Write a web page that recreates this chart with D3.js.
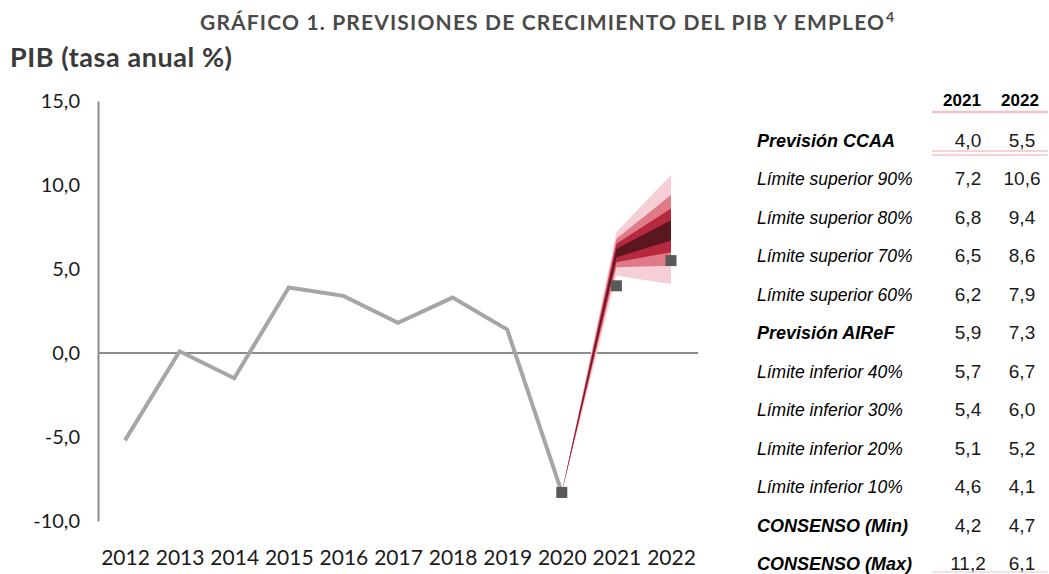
<!DOCTYPE html>
<html>
<head>
<meta charset="utf-8">
<script src="https://cdn.jsdelivr.net/npm/d3@7"></script>
<style>
  body { margin: 0; background: #fff; }
  svg { display: block; }
</style>
</head>
<body>
<div id="grafico"></div>
<script>
// Serie histórica del PIB (tasa anual %)
const anios = ["2012", "2013", "2014", "2015", "2016", "2017", "2018", "2019", "2020", "2021", "2022"];
const anioHist = ["2012", "2013", "2014", "2015", "2016", "2017", "2018", "2019", "2020"];
const pibHist = [-5.2, 0.1, -1.5, 3.9, 3.4, 1.8, 3.3, 1.4, -8.3];

// Previsión CCAA (cuadrados)
const anioCCAA = ["2021", "2022"];
const pibCCAA = [4.0, 5.5];

// Tabla
const filas = ["Previsión CCAA", "Límite superior 90%", "Límite superior 80%", "Límite superior 70%",
    "Límite superior 60%", "Previsión AIReF", "Límite inferior 40%", "Límite inferior 30%",
    "Límite inferior 20%", "Límite inferior 10%", "CONSENSO (Min)", "CONSENSO (Max)"];
const val2021 = [4.0, 7.2, 6.8, 6.5, 6.2, 5.9, 5.7, 5.4, 5.1, 4.6, 4.2, 11.2];
const val2022 = [5.5, 10.6, 9.4, 8.6, 7.9, 7.3, 6.7, 6.0, 5.2, 4.1, 4.7, 6.1];
const filasNegrita = ["Previsión CCAA", "Previsión AIReF", "CONSENSO (Min)", "CONSENSO (Max)"];

// Bandas del abanico: [inferior, superior] (índices de la tabla)
const bandas = [
    { lo: 9, hi: 1, color: "#f5cfd5" },
    { lo: 8, hi: 2, color: "#e07a87" },
    { lo: 7, hi: 3, color: "#b6293f" },
    { lo: 6, hi: 4, color: "#5b1620" }
];

const svgWidth = 1049, svgHeight = 574;
const svg = d3.select("#grafico").append("svg")
    .attr("width", svgWidth)
    .attr("height", svgHeight);

const fuente = "'Gill Sans', 'Gill Sans MT', Lato, sans-serif";

// Títulos
svg.append("text")
    .attr("x", 200).attr("y", 30)
    .attr("textLength", 684)
    .attr("lengthAdjust", "spacing")
    .style("font-family", fuente)
    .style("font-weight", "bold")
    .style("font-size", "21px")
    .style("fill", "#4a4a4a")
    .text("GRÁFICO 1. PREVISIONES DE CRECIMIENTO DEL PIB Y EMPLEO");

svg.append("text")
    .attr("x", 886).attr("y", 22)
    .style("font-family", fuente)
    .style("font-weight", "bold")
    .style("font-size", "14px")
    .style("fill", "#4a4a4a")
    .text("4");

svg.append("text")
    .attr("x", 10).attr("y", 67)
    .attr("textLength", 222)
    .attr("lengthAdjust", "spacing")
    .style("font-family", fuente)
    .style("font-weight", "bold")
    .style("font-size", "27px")
    .style("fill", "#3a3a3a")
    .text("PIB (tasa anual %)");

// Escalas
const x = d3.scalePoint()
    .domain(anios)
    .range([125, 671]);

const y = d3.scaleLinear()
    .domain([-10, 15])
    .range([521, 101]);

// Eje Y
const ejeY = svg.append("g")
    .attr("transform", "translate(98,0)")
    .call(d3.axisLeft(y).tickValues([-10, -5, 0, 5, 10, 15])
        .tickFormat(d => d3.format(".1f")(d).replace(".", ",").replace("−", "-"))
        .tickSize(0).tickPadding(18));
ejeY.select(".domain").attr("stroke", "#8c8c8c").attr("stroke-width", 2);
ejeY.selectAll("text")
    .style("font-family", fuente)
    .style("font-size", "20px")
    .style("fill", "#1a1a1a");

// Eje X
const ejeX = svg.append("g")
    .attr("transform", "translate(0,550)")
    .call(d3.axisBottom(x).tickSize(0).tickPadding(0));
ejeX.select(".domain").remove();
ejeX.selectAll("text")
    .style("font-family", fuente)
    .style("font-size", "21px")
    .style("fill", "#1a1a1a");

// Línea del cero
svg.append("line")
    .attr("x1", 98).attr("x2", 698)
    .attr("y1", y(0)).attr("y2", y(0))
    .attr("stroke", "#8c8c8c")
    .attr("stroke-width", 2);

// Abanico
const ultimo = pibHist[pibHist.length - 1];
bandas.forEach(b => {
    const pts = [
        [x("2020"), y(ultimo)],
        [x("2021"), y(val2021[b.hi])],
        [x("2022"), y(val2022[b.hi])],
        [x("2022"), y(val2022[b.lo])],
        [x("2021"), y(val2021[b.lo])]
    ];
    svg.append("path")
        .attr("d", d3.line()(pts) + "Z")
        .attr("fill", b.color);
});

// Línea histórica
svg.append("path")
    .datum(pibHist)
    .attr("fill", "none")
    .attr("stroke", "#a6a6a6")
    .attr("stroke-width", 4)
    .attr("d", d3.line().x((d, i) => x(anioHist[i])).y(d => y(d)));

// Cuadrados
const lado = 11;
svg.selectAll("rect.ccaa")
    .data(pibCCAA.map((v, i) => ({ anio: anioCCAA[i], v })).concat([{ anio: "2020", v: ultimo }]))
    .enter()
    .append("rect")
    .attr("class", "ccaa")
    .attr("x", d => x(d.anio) - lado / 2)
    .attr("y", d => y(d.v) - lado / 2)
    .attr("width", lado)
    .attr("height", lado)
    .attr("fill", "#595959");

// Tabla
const tabla = svg.append("g");
const fuenteTabla = "'Liberation Sans', Arial, sans-serif";
const xCol = [968, 1022];
const yFila = d3.scalePoint().domain(filas).range([147, 570]);

tabla.selectAll("text.cab")
    .data(["2021", "2022"])
    .enter()
    .append("text")
    .attr("x", (d, i) => xCol[i] - 6 + i * 4)
    .attr("y", 106)
    .attr("text-anchor", "middle")
    .style("font-family", fuenteTabla)
    .style("font-weight", "bold")
    .style("font-size", "17px")
    .style("fill", "#000")
    .text(d => d);

tabla.selectAll("text.fila")
    .data(filas)
    .enter()
    .append("text")
    .attr("x", 757)
    .attr("y", d => yFila(d))
    .style("font-family", fuenteTabla)
    .style("font-style", "italic")
    .style("font-weight", d => filasNegrita.includes(d) ? "bold" : "normal")
    .style("font-size", d => filasNegrita.includes(d) ? "18px" : "17.5px")
    .style("fill", "#000")
    .text(d => d);

[val2021, val2022].forEach((vals, c) => {
    tabla.selectAll("text.v" + c)
        .data(vals)
        .enter()
        .append("text")
        .attr("x", xCol[c])
        .attr("y", (d, i) => yFila(filas[i]))
        .attr("text-anchor", "middle")
        .style("font-family", fuenteTabla)
        .style("font-size", "19px")
        .style("fill", "#1a1a1a")
        .text(d => d3.format(".1f")(d).replace(".", ","));
});

// Líneas rosas de la tabla
const rosa = "#f0c3c9";
[[112, 2.5], [151, 1.5], [155, 1.5], [572, 1]].forEach(([yy, w]) => {
    tabla.append("line")
        .attr("x1", 932).attr("x2", 1048)
        .attr("y1", yy).attr("y2", yy)
        .attr("stroke", rosa)
        .attr("stroke-width", w);
});
</script>
</body>
</html>
